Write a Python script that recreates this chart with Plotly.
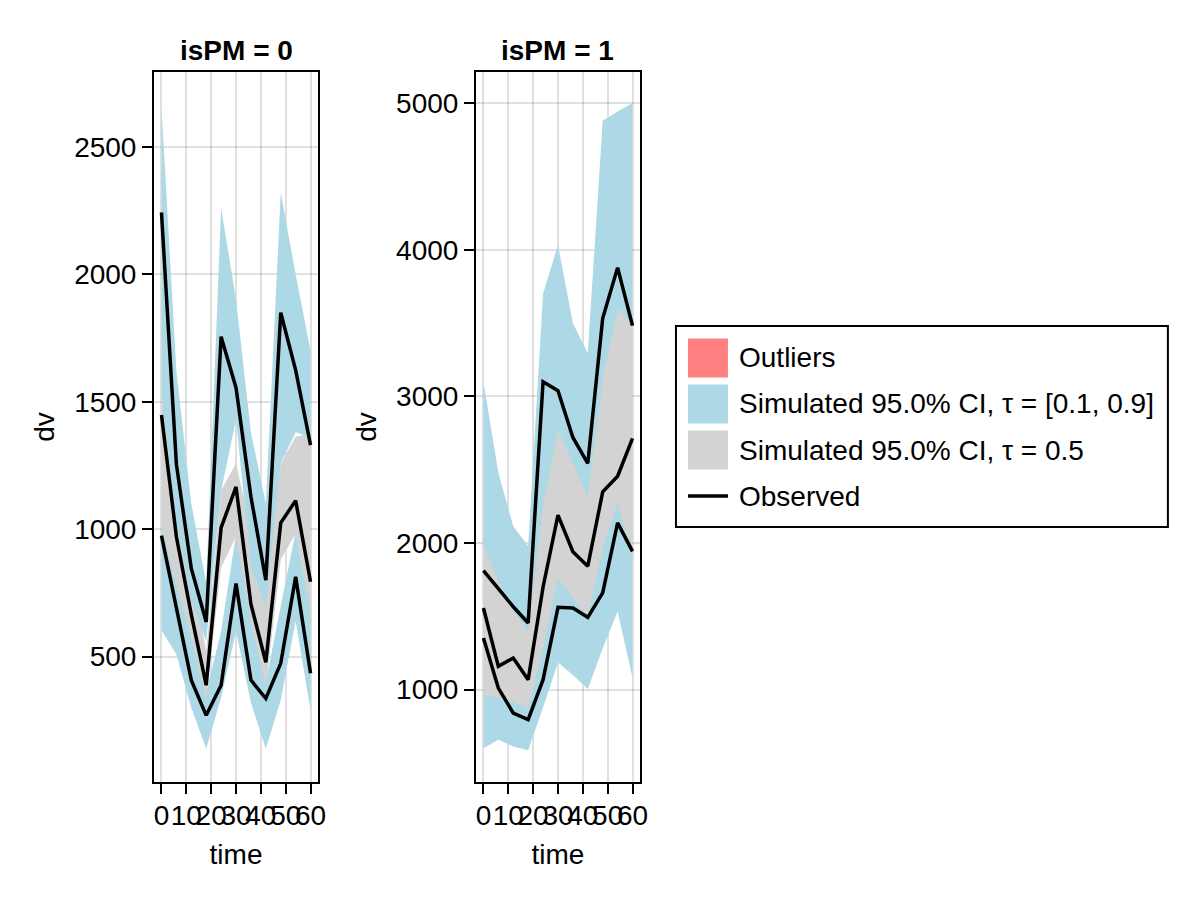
import plotly.graph_objects as go

# ---------------- data ----------------
time = [0, 6, 12, 18, 24, 30, 36, 42, 48, 54, 60]
panel_titles = ["isPM = 0", "isPM = 1"]
x_ticks = [0, 10, 20, 30, 40, 50, 60]
y_ticks_0 = [500, 1000, 1500, 2000, 2500]
y_ticks_1 = [1000, 2000, 3000, 4000, 5000]

# isPM = 0
obs_hi_0 = [2242, 1255, 846, 636, 1755, 1555, 1127, 800, 1849, 1624, 1330]
obs_med_0 = [1448, 970, 665, 388, 1006, 1166, 706, 478, 1025, 1112, 794]
obs_lo_0 = [975, 685, 408, 270, 388, 787, 408, 336, 474, 813, 435]
ci_hi_up_0 = [2658, 1620, 1100, 790, 2260, 1900, 1380, 1100, 2320, 2000, 1700]
ci_hi_lo_0 = [1533, 1040, 720, 560, 1150, 1430, 850, 700, 1260, 1380, 1360]
ci_med_up_0 = [1560, 1170, 840, 520, 1153, 1258, 1000, 790, 1258, 1363, 1375]
ci_med_lo_0 = [1010, 775, 578, 340, 850, 970, 640, 380, 880, 983, 670]
ci_lo_up_0 = [1020, 800, 580, 360, 600, 980, 650, 400, 700, 990, 690]
ci_lo_lo_0 = [604, 510, 300, 139, 340, 600, 320, 139, 330, 640, 290]

# isPM = 1
obs_hi_1 = [1811, 1690, 1565, 1454, 3101, 3039, 2720, 2543, 3533, 3879, 3483]
obs_med_1 = [1556, 1158, 1215, 1067, 1700, 2190, 1940, 1842, 2349, 2456, 2714]
obs_lo_1 = [1351, 1010, 839, 794, 1067, 1561, 1556, 1493, 1659, 2137, 1943]
ci_hi_up_1 = [3100, 2480, 2115, 1980, 3700, 4035, 3499, 3294, 4881, 4945, 5002]
ci_hi_lo_1 = [1990, 1738, 1533, 1397, 2250, 2771, 2540, 2315, 3112, 3601, 3490]
ci_med_up_1 = [2050, 1800, 1600, 1460, 2350, 2850, 2620, 2400, 3200, 3680, 3560]
ci_med_lo_1 = [964, 941, 919, 873, 1283, 1761, 1624, 1488, 1966, 2273, 1898]
ci_lo_up_1 = [1020, 1000, 980, 930, 1350, 1830, 1700, 1560, 2040, 2340, 1960]
ci_lo_lo_1 = [600, 657, 612, 585, 877, 1185, 1099, 1003, 1280, 1533, 1082]

legend_labels = ["Outliers", "Simulated 95.0% CI, \u03c4 = [0.1, 0.9]",
                 "Simulated 95.0% CI, \u03c4 = 0.5", "Observed"]

BLUE = "#ADD8E6"
GRAY = "#D3D3D3"
SALMON = "#FF8080"
FONT = "Liberation Sans, Arial, sans-serif"
FS = 28
LW = 3.5

# Page layout helpers: body keeps its default 8px margin; the capture maps
# ~1208 css px onto the 1200 px picture horizontally.
W, H, OFF = 1184, 884, 8
SX = 1200 / 1208


def px(xp):
    return (xp / SX - OFF) / W


def py(yp):
    return 1 - (yp - OFF) / H


fig = go.Figure()


def band(lo, up, color, xa, ya, name):
    fig.add_trace(go.Scatter(
        x=time + time[::-1], y=up + lo[::-1], fill="toself", fillcolor=color,
        mode="lines", line=dict(width=0, color=color), hoverinfo="skip",
        name=name, showlegend=False, xaxis=xa, yaxis=ya))


def obs(vals, xa, ya):
    fig.add_trace(go.Scatter(
        x=time, y=vals, mode="lines", line=dict(color="black", width=LW),
        name="Observed", showlegend=False, xaxis=xa, yaxis=ya))


panels = [
    ("x", "y", obs_hi_0, obs_med_0, obs_lo_0, ci_hi_up_0, ci_hi_lo_0,
     ci_med_up_0, ci_med_lo_0, ci_lo_up_0, ci_lo_lo_0),
    ("x2", "y2", obs_hi_1, obs_med_1, obs_lo_1, ci_hi_up_1, ci_hi_lo_1,
     ci_med_up_1, ci_med_lo_1, ci_lo_up_1, ci_lo_lo_1),
]
for (xa, ya, oh, om, ol, hu, hl, mu, ml, lu, ll) in panels:
    band(ll, lu, BLUE, xa, ya, legend_labels[1])
    band(ml, mu, GRAY, xa, ya, legend_labels[2])
    band(hl, hu, BLUE, xa, ya, legend_labels[1])
    obs(oh, xa, ya)
    obs(om, xa, ya)
    obs(ol, xa, ya)

axis_common = dict(
    showline=True, linecolor="black", linewidth=2, mirror=True,
    ticks="outside", ticklen=10, tickwidth=2, tickcolor="black",
    showgrid=True, gridcolor="rgba(0,0,0,0.12)", gridwidth=2,
    zeroline=False, tickfont=dict(family=FONT, size=FS, color="black"),
    title_font=dict(family=FONT, size=FS, color="black"),
)

ydom = [py(782), py(72)]
fig.update_layout(
    width=W, height=H,
    margin=dict(l=0, r=0, t=0, b=0),
    paper_bgcolor="white", plot_bgcolor="white",
    showlegend=False,
    font=dict(family=FONT, size=FS, color="black"),
    xaxis=dict(domain=[px(154), px(318)], range=[-3, 63], tickvals=x_ticks,
               tickangle=0, ticklabelstandoff=-3,
               title=dict(text="time", standoff=15), anchor="y",
               **axis_common),
    yaxis=dict(domain=ydom, range=[8.5, 2793], tickvals=y_ticks_0,
               title=dict(text="dv", standoff=11), anchor="x", **axis_common),
    xaxis2=dict(domain=[px(476), px(640)], range=[-3, 63], tickvals=x_ticks,
                tickangle=0, ticklabelstandoff=-3,
                title=dict(text="time", standoff=15), anchor="y2",
                **axis_common),
    yaxis2=dict(domain=ydom, range=[369, 5214], tickvals=y_ticks_1,
                title=dict(text="dv", standoff=11), anchor="x2", **axis_common),
)

# panel titles
for i, cx in enumerate([(154 + 318) / 2, (476 + 640) / 2]):
    fig.add_annotation(x=px(cx), y=py(50), xref="paper", yref="paper",
                       text="<b>" + panel_titles[i] + "</b>", showarrow=False,
                       xanchor="center", yanchor="middle",
                       font=dict(family=FONT, size=FS, color="black"))

# legend (drawn as shapes + text)
fig.add_shape(type="rect", xref="paper", yref="paper", x0=px(676), x1=px(1168),
              y0=py(527), y1=py(326), line=dict(color="black", width=2),
              fillcolor="white", layer="above")
patch_colors = [SALMON, BLUE, GRAY]
centers = [358, 404, 450, 496]
for i, c in enumerate(patch_colors):
    fig.add_shape(type="rect", xref="paper", yref="paper", x0=px(688), x1=px(728),
                  y0=py(centers[i] + 19.5), y1=py(centers[i] - 19.5),
                  line=dict(width=0), fillcolor=c, layer="above")
fig.add_shape(type="line", xref="paper", yref="paper", x0=px(688), x1=px(728),
              y0=py(centers[3]), y1=py(centers[3]),
              line=dict(color="black", width=LW), layer="above")
for i, lab in enumerate(legend_labels):
    fig.add_annotation(x=px(737), y=py(centers[i]), xref="paper", yref="paper",
                       text=lab, showarrow=False, xanchor="left", yanchor="middle",
                       font=dict(family=FONT, size=FS, color="black"))

fig.write_html("out.html", config={"displayModeBar": False})
